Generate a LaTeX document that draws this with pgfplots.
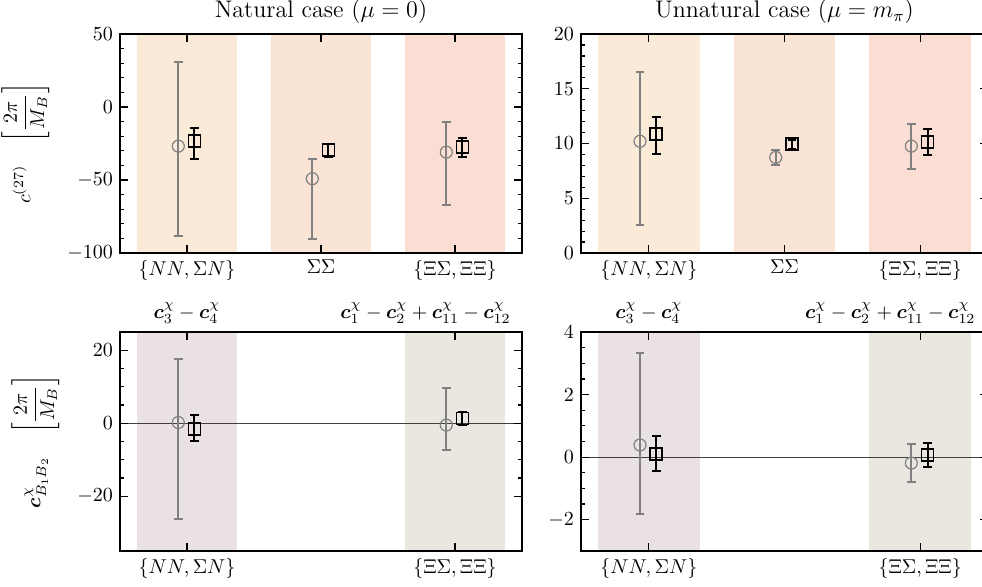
\documentclass[border=0pt]{standalone}
\usepackage{amsmath}
\usepackage{pgfplots}
\usepackage{pgfplotstable}
\pgfplotsset{compat=1.18}
\usepackage{bm}
\definecolor{bandA}{RGB}{250,234,216}
\definecolor{bandB}{RGB}{249,228,214}
\definecolor{bandC}{RGB}{250,222,212}
\definecolor{bandD}{RGB}{234,225,229}
\definecolor{bandE}{RGB}{234,231,224}
\definecolor{ptgray}{RGB}{128,128,128}

% top-left (natural)
\pgfplotstableread{
x y ep em
-0.065 -26.8 57.5 61.8
0.935 -49.1 13.6 41.6
1.935 -30.9 20.4 35.9
}\TLcirc
\pgfplotstableread{
x y ep em
0.055 -23.4 9.3 12.1
1.055 -29.3 3.8 4.8
2.055 -27.3 5.9 7.2
}\TLsq
% top-right (unnatural)
\pgfplotstableread{
x y ep em
-0.065 10.2 6.35 7.65
0.935 8.73 0.69 0.67
1.935 9.76 2.03 2.12
}\TRcirc
\pgfplotstableread{
x y ep em
0.055 10.85 1.6 1.85
1.055 9.97 0.36 0.47
2.055 10.15 1.18 1.21
}\TRsq
% bottom-left
\pgfplotstableread{
x y ep em
-0.065 0.2 17.4 26.5
1.935 -0.5 10.1 6.9
}\BLcirc
\pgfplotstableread{
x y ep em
0.055 -1.5 3.8 3.3
2.055 1.3 1.9 1.8
}\BLsq
% bottom-right
\pgfplotstableread{
x y ep em
-0.065 0.39 2.94 2.2
1.935 -0.19 0.62 0.62
}\BRcirc
\pgfplotstableread{
x y ep em
0.055 0.11 0.57 0.54
2.055 0.06 0.38 0.38
}\BRsq

\begin{document}
\begin{tikzpicture}
\pgfplotsset{
  base/.style={
    scale only axis, height=109.5pt, anchor=north west,
    xmin=-0.5, xmax=2.5, tick align=inside, tick pos=both,
    axis line style={line width=0.9pt},
    major tick length=4pt, minor tick length=2.2pt,
    every tick/.append style={line width=0.6pt, black},
    axis on top, clip mode=individual,
    title style={font=\large, at={(0.5,1)}, anchor=base, yshift=2.3pt},
    ylabel style={inner sep=0pt, yshift=5.5pt},
  },
  toprow/.style={xtick={0,1,2},
    xticklabels={{$\{NN,\Sigma N\}$}, {$\Sigma\Sigma$}, {$\{\Xi\Sigma,\Xi\Xi\}$}}},
  botrow/.style={xtick={0,2},
    xticklabels={{$\{NN,\Sigma N\}$}, {$\{\Xi\Sigma,\Xi\Xi\}$}}},
  circ/.style={only marks, mark=o, color=ptgray, mark size=3pt,
    mark options={line width=0.6pt, fill=none},
    error bars/.cd, y dir=both, y explicit,
    error bar style={line width=1pt, ptgray},
    error mark options={rotate=90, mark size=2.2pt, line width=1pt, ptgray}},
  sq/.style={only marks, mark=square, color=black, mark size=3pt,
    mark options={line width=0.8pt, fill=none},
    error bars/.cd, y dir=both, y explicit,
    error bar style={line width=1pt, black},
    error mark options={rotate=90, mark size=2.2pt, line width=1pt, black}},
}
% ---------------- top-left
\begin{axis}[base, toprow, width=201pt, at={(60pt,-17pt)},
  ymin=-100, ymax=50, ytick={-100,-50,0,50}, minor y tick num=4,
  title={Natural case ($\mu=0$)},
  ylabel={$c^{(27)}\quad\left[\dfrac{2\pi}{M_B}\right]$}]
\addplot[fill=bandA, draw=none, forget plot] coordinates {(-0.375,-100) (-0.375,50) (0.375,50) (0.375,-100)} -- cycle;
\addplot[fill=bandB, draw=none, forget plot] coordinates {(0.625,-100) (0.625,50) (1.375,50) (1.375,-100)} -- cycle;
\addplot[fill=bandC, draw=none, forget plot] coordinates {(1.625,-100) (1.625,50) (2.375,50) (2.375,-100)} -- cycle;
\addplot[circ] table[x=x, y=y, y error plus=ep, y error minus=em] {\TLcirc};
\addplot[sq] table[x=x, y=y, y error plus=ep, y error minus=em] {\TLsq};
\end{axis}
% ---------------- top-right
\begin{axis}[base, toprow, width=203.5pt, at={(290.5pt,-17pt)},
  ymin=0, ymax=20, ytick={0,5,10,15,20}, minor y tick num=4,
  title={Unnatural case ($\mu=m_\pi$)}]
\addplot[fill=bandA, draw=none, forget plot] coordinates {(-0.375,0) (-0.375,20) (0.375,20) (0.375,0)} -- cycle;
\addplot[fill=bandB, draw=none, forget plot] coordinates {(0.625,0) (0.625,20) (1.375,20) (1.375,0)} -- cycle;
\addplot[fill=bandC, draw=none, forget plot] coordinates {(1.625,0) (1.625,20) (2.375,20) (2.375,0)} -- cycle;
\addplot[circ] table[x=x, y=y, y error plus=ep, y error minus=em] {\TRcirc};
\addplot[sq] table[x=x, y=y, y error plus=ep, y error minus=em] {\TRsq};
\end{axis}
% ---------------- bottom-left
\begin{axis}[base, botrow, width=201pt, at={(60pt,-166pt)},
  ymin=-35, ymax=25, ytick={-20,0,20}, minor y tick num=3,
  ylabel={$\bm{c}^{\chi}_{B_1B_2}\quad\left[\dfrac{2\pi}{M_B}\right]$}]
\addplot[fill=bandD, draw=none, forget plot] coordinates {(-0.375,-35) (-0.375,25) (0.375,25) (0.375,-35)} -- cycle;
\addplot[fill=bandE, draw=none, forget plot] coordinates {(1.625,-35) (1.625,25) (2.375,25) (2.375,-35)} -- cycle;
\addplot[black!75, line width=0.6pt, forget plot] coordinates {(-0.5,0) (2.5,0)};
\addplot[circ] table[x=x, y=y, y error plus=ep, y error minus=em] {\BLcirc};
\addplot[sq] table[x=x, y=y, y error plus=ep, y error minus=em] {\BLsq};
\node[anchor=base, yshift=7pt] at (axis cs:0,25) {$\bm{c}^{\chi}_3-\bm{c}^{\chi}_4$};
\node[anchor=base, yshift=7pt] at (axis cs:1.78,25) {$\bm{c}^{\chi}_1-\bm{c}^{\chi}_2+\bm{c}^{\chi}_{11}-\bm{c}^{\chi}_{12}$};
\end{axis}
% ---------------- bottom-right
\begin{axis}[base, botrow, width=203.5pt, at={(290.5pt,-166pt)},
  ymin=-3, ymax=4, ytick={-2,0,2,4}, minor y tick num=3]
\addplot[fill=bandD, draw=none, forget plot] coordinates {(-0.375,-3) (-0.375,4) (0.375,4) (0.375,-3)} -- cycle;
\addplot[fill=bandE, draw=none, forget plot] coordinates {(1.625,-3) (1.625,4) (2.375,4) (2.375,-3)} -- cycle;
\addplot[black!75, line width=0.6pt, forget plot] coordinates {(-0.5,0) (2.5,0)};
\addplot[circ] table[x=x, y=y, y error plus=ep, y error minus=em] {\BRcirc};
\addplot[sq] table[x=x, y=y, y error plus=ep, y error minus=em] {\BRsq};
\node[anchor=base, yshift=7pt] at (axis cs:0,4) {$\bm{c}^{\chi}_3-\bm{c}^{\chi}_4$};
\node[anchor=base, yshift=7pt] at (axis cs:1.78,4) {$\bm{c}^{\chi}_1-\bm{c}^{\chi}_2+\bm{c}^{\chi}_{11}-\bm{c}^{\chi}_{12}$};
\end{axis}
\pgfresetboundingbox
\path[use as bounding box] (0pt,0pt) rectangle (491pt,-293pt);
\end{tikzpicture}
\end{document}
